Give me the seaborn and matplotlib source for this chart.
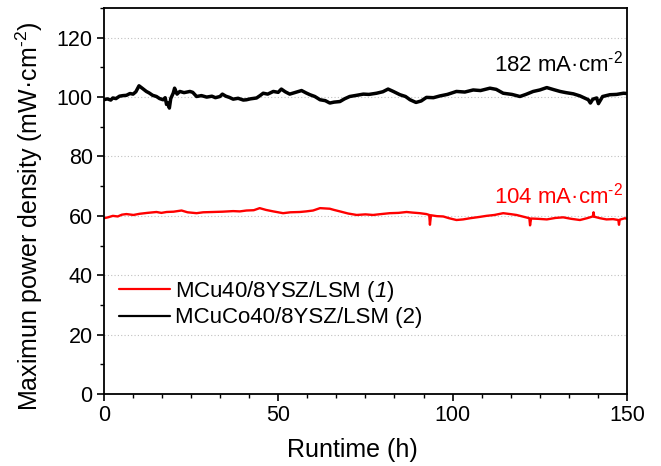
import matplotlib
matplotlib.use("Agg")
import matplotlib.pyplot as plt
from matplotlib.ticker import MultipleLocator
import pandas as pd
import seaborn as sns

# ---- data ----
time_black = [0, 1, 2, 2.6, 3.5, 4.5, 5.5, 6.5, 7.5, 8.4, 9.2, 10.1, 11, 12.2, 13, 14, 15.1, 16, 17, 17.6,
              18, 18.4, 18.8, 19.2, 19.9, 20.3, 21, 21.8, 23, 24.7, 25.5, 26.6, 28, 29.5, 31, 32, 33.3, 34, 35, 36,
              37.1, 38.5, 40, 40.9, 42, 43.8, 44.8, 45.7, 47, 48.6, 50, 50.9, 52, 53.3, 55, 56.7, 58, 59.1, 60.5, 62,
              63.5, 64.8, 66, 67.7, 69, 70.5, 72.5, 74.4, 76, 78.2, 80, 81.5, 83, 84.9, 86.5, 87.8, 89.5, 91, 92.5, 94.5,
              96.4, 98.5, 101.1, 103.5, 105.9, 108, 110.7, 112.5, 114.5, 117, 119.3, 121, 123.1, 125, 127, 129, 130.8, 132.5, 134.6, 136.5,
              138.9, 139.5, 140.2, 141.3, 141.8, 143, 145.1, 147, 149, 150]
power_black = [99.1, 99.4, 99.0, 99.7, 99.5, 100.3, 100.5, 100.6, 101.2, 101.0, 101.8, 103.8, 103.0, 101.9, 101.4, 100.6, 100.2, 99.5, 99.1, 99.8,
               97.5, 98.0, 96.3, 99.5, 101.3, 103.0, 101.0, 101.9, 101.5, 101.9, 101.6, 100.2, 100.5, 100.0, 100.3, 99.8, 100.2, 101.0, 100.3, 99.9,
               99.3, 99.6, 99.0, 99.1, 99.4, 99.7, 100.5, 101.3, 101.0, 101.9, 101.6, 102.7, 101.8, 101.0, 101.6, 102.2, 101.4, 100.8, 100.2, 99.1,
               98.8, 98.0, 98.3, 98.5, 99.4, 100.2, 100.6, 101.0, 100.9, 101.3, 101.8, 102.7, 101.9, 100.8, 100.2, 99.1, 98.2, 98.7, 99.9, 99.8,
               100.4, 100.9, 101.9, 101.7, 102.4, 102.2, 103.0, 102.6, 101.3, 100.9, 100.2, 100.9, 101.9, 102.4, 103.2, 102.5, 101.9, 101.5, 101.1, 100.4,
               99.1, 98.0, 99.3, 99.7, 97.8, 100.2, 100.8, 100.9, 101.3, 101.2]

time_red = [0, 1.2, 2.6, 4, 5.2, 6.5, 8.5, 10.3, 12.5, 15.1, 16.5, 18, 20, 22.3, 24, 26.6, 28.5, 31.3, 34, 37.1,
            39, 40.9, 43, 44.7, 46.5, 48.6, 51.4, 53.5, 56.2, 58, 60, 62, 64.8, 66, 67.7, 70, 72.5, 75, 77.2, 79.5,
            82, 84.5, 86.8, 88.5, 90.6, 92.5, 93.3, 93.5, 93.8, 95.5, 97.3, 99, 101.1, 103, 105, 107.5, 109.7, 112, 114.5, 116.5,
            118.3, 120, 122, 122.2, 122.5, 124.5, 127, 129.5, 131.7, 134, 136.5, 138.5, 140.2, 140.4, 140.6, 142.3, 144.1, 146, 147.5, 147.7,
            147.9, 149.4, 150]
power_red = [59.2, 59.5, 60.0, 59.8, 60.4, 60.6, 60.3, 60.7, 61.0, 61.3, 61.0, 61.3, 61.4, 61.8, 61.2, 60.9, 61.2, 61.3, 61.4, 61.6,
             61.5, 61.8, 61.9, 62.6, 62.0, 61.5, 60.9, 61.2, 61.3, 61.5, 61.8, 62.6, 62.4, 62.0, 61.5, 60.8, 60.3, 60.5, 60.3, 60.6,
             60.9, 61.0, 61.3, 61.1, 60.9, 60.6, 60.3, 57.0, 60.2, 59.9, 59.8, 59.2, 58.6, 58.8, 59.2, 59.6, 60.0, 60.3, 60.9, 60.6,
             60.3, 59.8, 59.2, 56.8, 59.1, 59.0, 58.8, 59.3, 59.5, 59.0, 58.6, 59.2, 59.8, 61.2, 59.7, 59.2, 58.8, 58.9, 58.6, 57.0,
             58.7, 59.2, 59.0]

HY = "\u2010"  # plain hyphen used in the superscripts
label_red = "MCu40/8YSZ/LSM ($\\mathsf{1}$)"
label_black = "MCuCo40/8YSZ/LSM (2)"
annot_black = "182 mA·cm$^{" + HY + "2}$"
annot_red = "104 mA·cm$^{" + HY + "2}$"
xlabel = "Runtime (h)"
ylabel = "Maximun power density (mW·cm$^{" + HY + "2}$)"

df = pd.concat([
    pd.DataFrame({"t": time_red, "p": power_red, "s": label_red}),
    pd.DataFrame({"t": time_black, "p": power_black, "s": label_black}),
], ignore_index=True)

sns.set_style("ticks")
plt.rcParams["font.family"] = ["Liberation Sans", "DejaVu Sans"]
plt.rcParams["mathtext.fontset"] = "custom"
plt.rcParams["mathtext.rm"] = "Liberation Sans"
plt.rcParams["mathtext.it"] = "Liberation Sans:italic"
plt.rcParams["mathtext.sf"] = "Liberation Sans:italic"
plt.rcParams["mathtext.default"] = "regular"
plt.rcParams["text.color"] = "black"
plt.rcParams["axes.labelcolor"] = "black"
plt.rcParams["xtick.color"] = "black"
plt.rcParams["ytick.color"] = "black"

fig = plt.figure(figsize=(6.61, 4.66), dpi=100)
ax = fig.add_axes([0.157, 0.1545, 0.7916, 0.8283])

sns.lineplot(data=df, x="t", y="p", hue="s", hue_order=[label_red, label_black],
             palette={label_red: "#ff0000", label_black: "#000000"},
             estimator=None, sort=False, ax=ax, linewidth=1.6)
for ln, w in zip(ax.lines, [1.7, 2.5]):
    ln.set_linewidth(w)

ax.set_xlim(0, 150)
ax.set_ylim(0, 130)
ax.xaxis.set_major_locator(MultipleLocator(50))
ax.xaxis.set_minor_locator(MultipleLocator(50 / 6))
ax.yaxis.set_major_locator(MultipleLocator(20))
ax.yaxis.set_minor_locator(MultipleLocator(10))
ax.tick_params(axis="both", which="major", direction="out", length=5, width=1.2,
               labelsize=15.5, top=False, right=False, pad=3, colors="black")
ax.tick_params(axis="both", which="minor", direction="out", length=3, width=1.0,
               top=False, right=False, colors="black")
for sp in ax.spines.values():
    sp.set_visible(True)
    sp.set_linewidth(1.3)
    sp.set_color("black")

ax.grid(axis="y", which="major", linestyle=(0, (1, 2)), color="#c0c0c0", linewidth=0.8)
ax.set_axisbelow(True)

ax.set_xlabel(xlabel, fontsize=18, color="black")
ax.xaxis.set_label_coords(0.476, -0.115)
ax.set_ylabel(ylabel, fontsize=18, color="black")
ax.yaxis.set_label_coords(-0.113, 0.461)

ax.text(0.992, 0.822, annot_black, transform=ax.transAxes, ha="right", va="bottom",
        fontsize=16, color="black")
ax.text(0.992, 0.48, annot_red, transform=ax.transAxes, ha="right", va="bottom",
        fontsize=16, color="#ff0000")

leg = ax.legend(loc="upper left", bbox_to_anchor=(0.0, 0.338), frameon=False,
                fontsize=16, handlelength=2.3, handletextpad=0.2, labelspacing=0.15,
                borderaxespad=0.3)
for h in leg.get_lines():
    h.set_linewidth(1.6)
for t in leg.get_texts():
    t.set_color("black")

fig.savefig("out.png", dpi=100)
